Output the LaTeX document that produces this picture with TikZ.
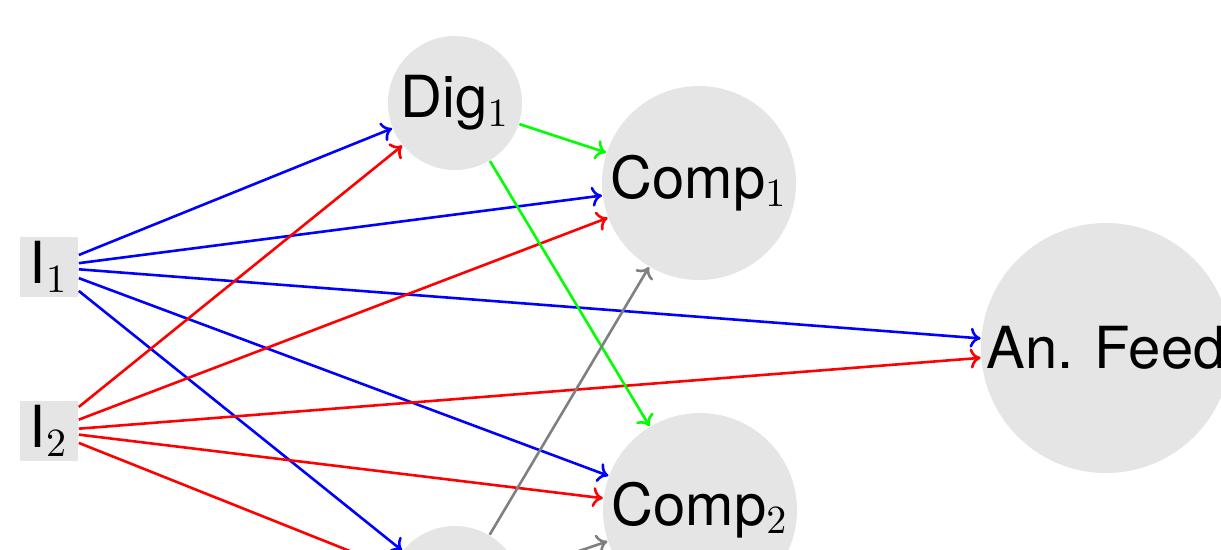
\documentclass[tikz,border=0pt]{standalone}
\usepackage[no-math]{fontspec}
\setmainfont{TeX Gyre Heros}
\usetikzlibrary{arrows.meta}
\definecolor{nodegray}{gray}{0.9}
\definecolor{pureblue}{rgb}{0,0,1}
\definecolor{purered}{rgb}{1,0,0}
\definecolor{puregreen}{rgb}{0,1,0}
\definecolor{midgray}{gray}{0.5}
\begin{document}
\begin{tikzpicture}[x=0.25pt,y=-0.25pt,
  font=\fontsize{14.5}{17}\selectfont,
  every node/.style={fill=nodegray, inner sep=0pt, text=black},
  inp/.style={rectangle, minimum width=14.5pt, minimum height=15pt},
  dig/.style={circle, minimum size=33.5pt},
  comp/.style={circle, minimum size=48.5pt},
  feed/.style={circle, minimum size=62.5pt},
  link/.style={line width=0.65pt, -{To[length=2.6pt,width=5pt]}},
]
\useasboundingbox (0,0) rectangle (1221,549);
\clip (0,0) rectangle (1221,549);

% layers: inputs, digital units, comparators, analog feed
\node[inp]  (i1)   at (49,267)   {I$_1$};
\node[inp]  (i2)   at (49,431)   {I$_2$};
\node[dig]  (d1)   at (455,103)  {Dig$_1$};
\node[dig]  (d2)   at (455,593)  {};
\node[comp] (c1)   at (699,183)  {Comp$_1$};
\node[comp] (c2)   at (700,510)  {Comp$_2$};
\node[feed] (feed) at (1106,348) {An. Feed};

% connections from I1
\foreach \t in {d1,c1,feed,c2,d2}
  \draw[link, pureblue] (i1) -- (\t);
% connections from I2
\foreach \t in {d1,c1,feed,c2,d2}
  \draw[link, purered] (i2) -- (\t);
% digital units to comparators
\draw[link, puregreen] (d1) -- (c1);
\draw[link, puregreen] (d1) -- (c2);
\draw[link, midgray] (d2) -- (c1);
\draw[link, midgray] (d2) -- (c2);
\end{tikzpicture}
\end{document}
